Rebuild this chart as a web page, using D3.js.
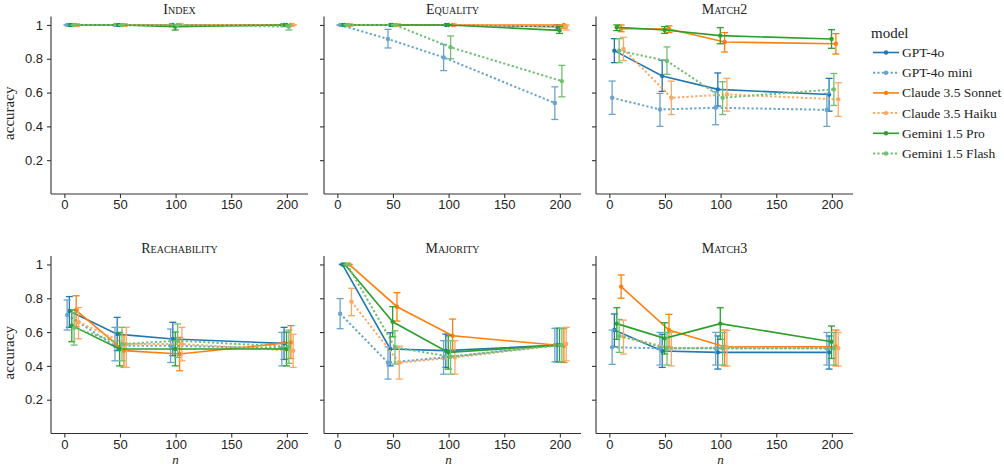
<!DOCTYPE html>
<html>
<head>
<meta charset="utf-8">
<script src="https://cdn.jsdelivr.net/npm/d3@7"></script>
<style>
  body { margin: 0; background: #fff; }
  svg { font-family: "Liberation Serif", "Times New Roman", serif; }
  .axis path, .axis line { stroke: #333; stroke-width: 1.1; }
  .axis text { fill: #222; font-size: 13px; }
  .title { font-variant: small-caps; font-size: 14px; fill: #222; }
</style>
</head>
<body>
<svg width="1004" height="465"></svg>
<script>
// models in legend order
var models = ['GPT-4o', 'GPT-4o mini', 'Claude 3.5 Sonnet', 'Claude 3.5 Haiku', 'Gemini 1.5 Pro', 'Gemini 1.5 Flash'];
var tasks = ['Index', 'Equality', 'Match2', 'Reachability', 'Majority', 'Match3'];
var nValues = [7, 50, 100, 200];
var yTicks = [0.2, 0.4, 0.6, 0.8, 1];
var xTicks = [0, 50, 100, 150, 200];

// one row per model, one column per n
var indexMean = [[1,1,1,1],[1,1,1,1],[1,1,1,1],[1,1,1,1],[1,1,0.99,1],[1,1,1,0.99]];
var indexLo   = [[1,1,1,1],[1,1,1,1],[1,1,1,1],[1,1,1,1],[1,1,0.97,1],[1,1,1,0.97]];
var indexHi   = [[1,1,1,1],[1,1,1,1],[1,1,1,1],[1,1,1,1],[1,1,1,1],[1,1,1,1]];

var equalityMean = [[1,1,1,0.99],[1,0.917,0.808,0.538],[1,1,1,1],[1,1,1,0.99],[1,1,1,0.968],[1,1,0.868,0.668]];
var equalityLo   = [[1,1,1,0.97],[1,0.864,0.73,0.441],[1,1,1,0.98],[1,1,1,0.97],[1,1,1,0.95],[1,1,0.80,0.575]];
var equalityHi   = [[1,1,1,1],[1,0.974,0.885,0.634],[1,1,1,1],[1,1,1,1],[1,1,1,0.99],[1,1,0.935,0.761]];

var match2Mean = [[0.848,0.698,0.619,0.589],[0.569,0.50,0.51,0.498],[0.978,0.976,0.899,0.889],[0.858,0.569,0.589,0.56],[0.986,0.97,0.937,0.917],[0.848,0.787,0.569,0.619]];
var match2Lo   = [[0.777,0.607,0.52,0.49],[0.471,0.40,0.41,0.40],[0.96,0.955,0.84,0.828],[0.789,0.47,0.49,0.459],[0.967,0.95,0.889,0.862],[0.777,0.708,0.47,0.524]];
var match2Hi   = [[0.919,0.791,0.716,0.684],[0.668,0.595,0.605,0.595],[1,0.995,0.955,0.949],[0.927,0.668,0.684,0.658],[1,0.99,0.984,0.972],[0.919,0.87,0.664,0.713]];

var reachMean = [[0.725,0.588,0.559,0.533],[0.701,0.519,0.519,0.504],[0.729,0.49,0.47,0.539],[0.66,0.529,0.529,0.49],[0.638,0.5,0.5,0.5],[0.626,0.529,0.549,0.513]];
var reachLo   = [[0.628,0.49,0.46,0.438],[0.612,0.43,0.42,0.40],[0.632,0.391,0.371,0.444],[0.56,0.391,0.43,0.391],[0.543,0.40,0.40,0.40],[0.523,0.43,0.45,0.415]];
var reachHi   = [[0.81,0.687,0.658,0.628],[0.79,0.628,0.618,0.598],[0.815,0.582,0.569,0.638],[0.745,0.628,0.628,0.587],[0.731,0.598,0.60,0.60],[0.715,0.628,0.648,0.612]];

var majorityMean = [[1,0.5,0.49,0.523],[0.709,0.419,0.45,0.523],[1,0.75,0.578,0.519],[0.78,0.419,0.45,0.529],[1,0.661,0.48,0.523],[1,0.51,0.454,0.523]];
var majorityLo   = [[1,0.40,0.391,0.424],[0.62,0.322,0.351,0.424],[1,0.665,0.48,0.42],[0.697,0.322,0.351,0.43],[1,0.572,0.381,0.424],[1,0.411,0.351,0.424]];
var majorityHi   = [[1,0.596,0.588,0.622],[0.798,0.513,0.549,0.622],[1,0.833,0.677,0.62],[0.859,0.517,0.549,0.628],[1,0.75,0.578,0.622],[1,0.608,0.549,0.622]];

var match3Mean = [[0.612,0.488,0.48,0.48],[0.51,0.504,0.504,0.504],[0.869,0.612,0.513,0.513],[0.572,0.504,0.51,0.504],[0.65,0.563,0.65,0.543],[0.577,0.504,0.504,0.504]];
var match3Lo   = [[0.513,0.391,0.381,0.381],[0.409,0.405,0.405,0.405],[0.80,0.515,0.40,0.40],[0.47,0.40,0.40,0.40],[0.557,0.47,0.557,0.444],[0.48,0.405,0.405,0.405]];
var match3Hi   = [[0.707,0.587,0.577,0.577],[0.612,0.598,0.598,0.598],[0.938,0.705,0.612,0.612],[0.671,0.598,0.61,0.598],[0.744,0.655,0.744,0.636],[0.675,0.598,0.598,0.598]];

var taskData = [
    [indexMean, indexLo, indexHi],
    [equalityMean, equalityLo, equalityHi],
    [match2Mean, match2Lo, match2Hi],
    [reachMean, reachLo, reachHi],
    [majorityMean, majorityLo, majorityHi],
    [match3Mean, match3Lo, match3Hi]
];

// styling per model
var baseColors = ['#1f77b4', '#1f77b4', '#ff7f0e', '#ff7f0e', '#2ca02c', '#2ca02c'];
var dotted = [false, true, false, true, false, true];
var colors = baseColors.map(function(c, i) {
    return dotted[i] ? d3.interpolateRgb(c, '#fff')(0.33) : c;
});
// horizontal dodge (in n units) so the error bars don't sit on top of each other
var dodge = [-2.5, -4.5, 3.6, 5.7, -0.3, 1.8];

var svg = d3.select('svg');

var panelW = 257, panelH = 177.5;
var panelX = [51, 324, 596];
var panelY = [16.5, 256];

var xScale = d3.scaleLinear().domain([-12, 219]).range([0, panelW]);
var yScale = d3.scaleLinear().domain([0, 1.05]).range([panelH, 0]);

var line = d3.line()
    .x(function(d) { return xScale(d.x); })
    .y(function(d) { return yScale(d.y); });

tasks.forEach(function(task, t) {
    var col = t % 3, row = Math.floor(t / 3);
    var g = svg.append('g')
        .attr('transform', 'translate(' + panelX[col] + ',' + panelY[row] + ')');

    var xAxis = d3.axisBottom(xScale).tickValues(xTicks).tickSize(4).tickPadding(2);
    var yAxis = d3.axisLeft(yScale).tickValues(yTicks).tickSize(4).tickPadding(4)
        .tickFormat(col == 0 ? d3.format('') : '');

    var xg = g.append('g').attr('class', 'x axis')
        .attr('transform', 'translate(0,' + panelH + ')')
        .call(xAxis);
    xg.select('.domain').attr('d', 'M0,0H' + panelW);
    var yg = g.append('g').attr('class', 'y axis').call(yAxis);
    yg.select('.domain').attr('d', 'M0,0V' + panelH);

    g.append('text')
        .attr('class', 'title')
        .attr('x', panelW / 2)
        .attr('y', -3)
        .attr('text-anchor', 'middle')
        .text(task);

    if (col == 0) {
        g.append('text')
            .attr('transform', 'translate(-37,' + (panelH / 2 + 8) + ') rotate(-90)')
            .attr('text-anchor', 'middle')
            .style('font-size', '15px')
            .style('fill', '#222')
            .text('accuracy');
    }
    if (row == 1) {
        g.append('text')
            .attr('x', xScale(100))
            .attr('y', panelH + 30)
            .attr('text-anchor', 'middle')
            .style('font-size', '13px')
            .style('font-style', 'italic')
            .style('fill', '#222')
            .text('n');
    }

    var mean = taskData[t][0], lo = taskData[t][1], hi = taskData[t][2];

    models.forEach(function(m, i) {
        var pts = nValues.map(function(n, j) {
            return { x: n + dodge[i], y: mean[i][j], lo: lo[i][j], hi: hi[i][j] };
        });
        var s = g.append('g').attr('class', 'series');

        s.append('path')
            .datum(pts)
            .attr('d', line)
            .attr('fill', 'none')
            .attr('stroke', colors[i])
            .attr('stroke-width', dotted[i] ? 2 : 1.6)
            .attr('stroke-dasharray', dotted[i] ? '2.2,2.2' : null);

        // error bars with caps
        var eb = s.selectAll('.err').data(pts).enter().append('g').attr('class', 'err')
            .attr('stroke', colors[i])
            .attr('stroke-width', 1.3);
        eb.append('line')
            .attr('x1', function(d) { return xScale(d.x); })
            .attr('x2', function(d) { return xScale(d.x); })
            .attr('y1', function(d) { return yScale(d.lo); })
            .attr('y2', function(d) { return yScale(d.hi); });
        ['lo', 'hi'].forEach(function(k) {
            eb.append('line')
                .attr('x1', function(d) { return xScale(d.x) - 3.5; })
                .attr('x2', function(d) { return xScale(d.x) + 3.5; })
                .attr('y1', function(d) { return yScale(d[k]); })
                .attr('y2', function(d) { return yScale(d[k]); });
        });

        s.selectAll('circle').data(pts).enter().append('circle')
            .attr('cx', function(d) { return xScale(d.x); })
            .attr('cy', function(d) { return yScale(d.y); })
            .attr('r', 2.2)
            .attr('fill', colors[i]);
    });
});

// legend
var legend = svg.append('g').attr('transform', 'translate(871,0)');
legend.append('text')
    .attr('x', 0)
    .attr('y', 38)
    .style('font-size', '15px')
    .style('fill', '#222')
    .text('model');

var items = legend.selectAll('.item').data(models).enter().append('g')
    .attr('class', 'item')
    .attr('transform', function(d, i) { return 'translate(0,' + (52.5 + i * 20.2) + ')'; });
items.append('line')
    .attr('x1', 2).attr('x2', 28)
    .attr('stroke', function(d, i) { return colors[i]; })
    .attr('stroke-width', function(d, i) { return dotted[i] ? 2 : 1.6; })
    .attr('stroke-dasharray', function(d, i) { return dotted[i] ? '2.2,2.2' : null; });
items.append('circle')
    .attr('cx', 15)
    .attr('r', 2.2)
    .attr('fill', function(d, i) { return colors[i]; });
items.append('text')
    .attr('x', 31)
    .attr('y', 4.5)
    .style('font-size', '13.5px')
    .style('fill', '#222')
    .text(function(d) { return d; });
</script>
</body>
</html>
